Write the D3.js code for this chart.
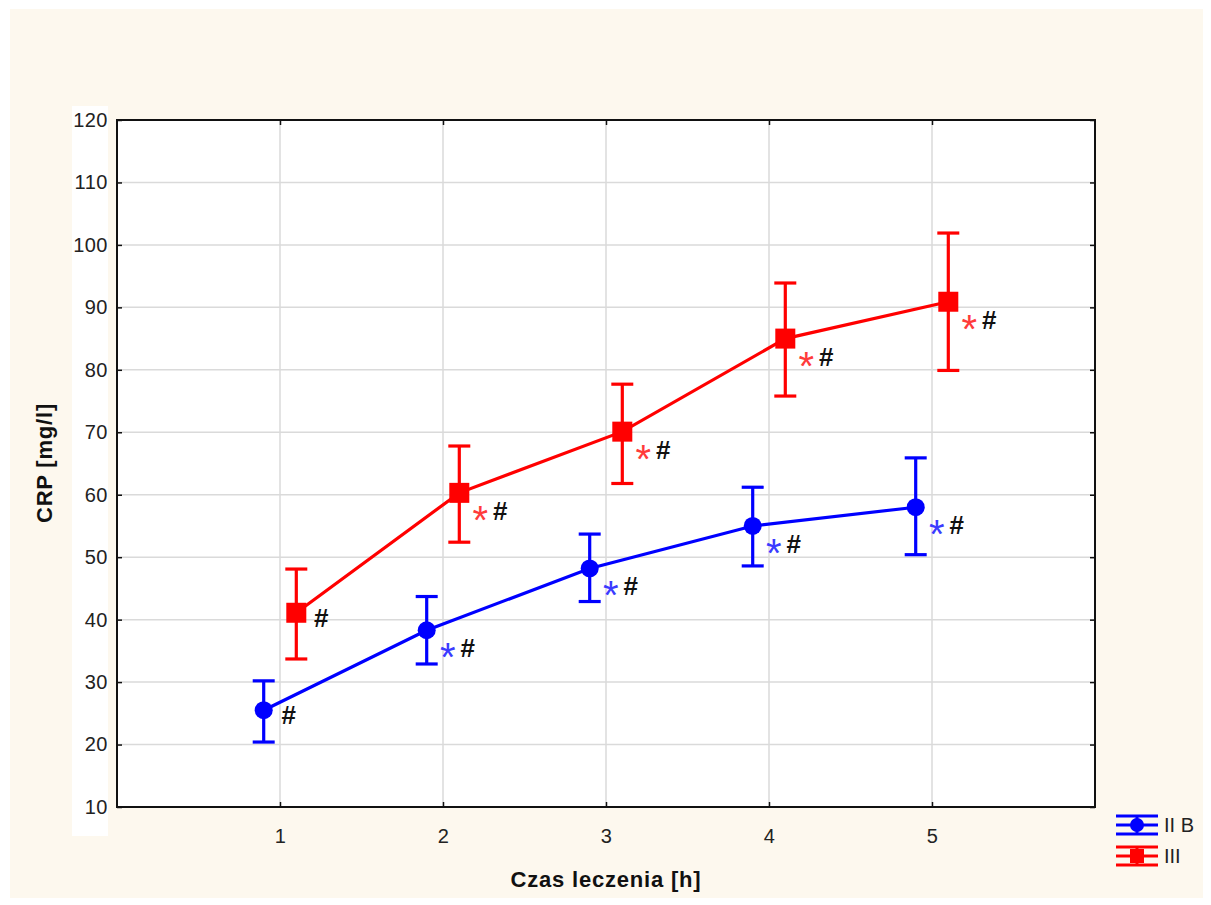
<!DOCTYPE html>
<html>
<head>
<meta charset="utf-8">
<script src="https://cdn.jsdelivr.net/npm/d3@7"></script>
<style>
  html, body { margin: 0; padding: 0; background: #ffffff; }
  svg { display: block; font-family: "Liberation Sans", Arial, sans-serif; }
</style>
</head>
<body>
<svg id="chart" width="1211" height="905"></svg>
<script>
// Treatment time (hours)
const hours = [1, 2, 3, 4, 5];
const yTicks = [10, 20, 30, 40, 50, 60, 70, 80, 90, 100, 110, 120];

// Group "II B": mean CRP with lower / upper error limits
const groupIIB = [25.5, 38.3, 48.2, 55.0, 58.0];
const groupIIBLow = [20.4, 32.9, 42.9, 48.6, 50.4];
const groupIIBHigh = [30.2, 43.7, 53.7, 61.2, 65.9];

// Group "III": mean CRP with lower / upper error limits
const groupIII = [41.1, 60.3, 70.1, 85.0, 90.9];
const groupIIILow = [33.7, 52.4, 61.8, 75.8, 79.9];
const groupIIIHigh = [48.1, 67.8, 77.7, 93.9, 101.9];

// Significance markers per time point
const starIIB = [false, true, true, true, true];
const starIII = [false, true, true, true, true];

const svg = d3.select("#chart");

// Frame and panel backgrounds
svg.append("rect").attr("x", 10).attr("y", 9).attr("width", 1193).attr("height", 889).attr("fill", "#fdf8ee");
svg.append("rect").attr("x", 72).attr("y", 106).attr("width", 36).attr("height", 730).attr("fill", "#ffffff");

const plot = { left: 117, right: 1095, top: 120, bottom: 807 };
svg.append("rect").attr("x", plot.left).attr("y", plot.top)
  .attr("width", plot.right - plot.left).attr("height", plot.bottom - plot.top).attr("fill", "#ffffff");

const x = d3.scaleLinear().domain([0, 6]).range([plot.left, plot.right]);
const y = d3.scaleLinear().domain([10, 120]).range([plot.bottom, plot.top]);

// Grid
const grid = svg.append("g");
grid.selectAll("line.h").data(yTicks.slice(1, -1)).join("line")
  .attr("x1", plot.left).attr("x2", plot.right)
  .attr("y1", d => y(d)).attr("y2", d => y(d))
  .attr("stroke", "#dadada").attr("stroke-width", 1.5);
grid.selectAll("line.v").data(hours).join("line")
  .attr("y1", plot.top).attr("y2", plot.bottom)
  .attr("x1", d => x(d)).attr("x2", d => x(d))
  .attr("stroke", "#dadada").attr("stroke-width", 1.5);

// Axes with inward ticks on all four sides
const axisStyle = g => {
  g.select(".domain").remove();
  g.selectAll(".tick line").attr("stroke", "#111").attr("stroke-width", 1.5);
  g.selectAll(".tick text").attr("fill", "#222").style("font-size", "20px").style("letter-spacing", "0.5px");
};
svg.append("g").attr("transform", `translate(${plot.left},0)`)
  .call(d3.axisLeft(y).tickValues(yTicks).tickSize(-5).tickPadding(9).tickFormat(d3.format("d")))
  .call(axisStyle);
svg.append("g").attr("transform", `translate(${plot.right},0)`)
  .call(d3.axisRight(y).tickValues(yTicks).tickSize(-5).tickFormat(""))
  .call(axisStyle);
svg.append("g").attr("transform", `translate(0,${plot.bottom})`)
  .call(d3.axisBottom(x).tickValues(hours).tickSize(-5).tickPadding(22).tickFormat(d3.format("d")))
  .call(axisStyle);
svg.append("g").attr("transform", `translate(0,${plot.top})`)
  .call(d3.axisTop(x).tickValues(hours).tickSize(-5).tickFormat(""))
  .call(axisStyle);

svg.append("rect").attr("x", plot.left).attr("y", plot.top)
  .attr("width", plot.right - plot.left).attr("height", plot.bottom - plot.top)
  .attr("fill", "none").attr("stroke", "#111").attr("stroke-width", 2);

// Axis titles
svg.append("text").attr("x", 606).attr("y", 887).attr("text-anchor", "middle")
  .style("font-size", "22px").style("font-weight", "bold").style("letter-spacing", "0.8px").attr("fill", "#111")
  .text("Czas leczenia [h]");
svg.append("text").attr("transform", "translate(52,463) rotate(-90)").attr("text-anchor", "middle")
  .style("font-size", "22px").style("font-weight", "bold").style("letter-spacing", "0.8px").attr("fill", "#111")
  .text("CRP [mg/l]");

// Series drawing
function drawSeries(means, lows, highs, stars, offset, color, starColor, marker) {
  const g = svg.append("g");
  const pts = hours.map((h, i) => ({ h, m: means[i], lo: lows[i], hi: highs[i], s: stars[i] }));
  const px = d => x(d.h + offset);

  g.append("path").datum(pts)
    .attr("d", d3.line().x(px).y(d => y(d.m)))
    .attr("fill", "none").attr("stroke", color).attr("stroke-width", 3.2);

  g.selectAll("line.err").data(pts).join("line")
    .attr("x1", px).attr("x2", px).attr("y1", d => y(d.lo)).attr("y2", d => y(d.hi))
    .attr("stroke", color).attr("stroke-width", 3.2);
  ["lo", "hi"].forEach(k => {
    g.selectAll("line.cap" + k).data(pts).join("line")
      .attr("x1", d => px(d) - 11).attr("x2", d => px(d) + 11)
      .attr("y1", d => y(d[k])).attr("y2", d => y(d[k]))
      .attr("stroke", color).attr("stroke-width", 3.2);
  });

  if (marker === "circle") {
    g.selectAll("circle").data(pts).join("circle")
      .attr("cx", px).attr("cy", d => y(d.m)).attr("r", 9).attr("fill", color);
  } else {
    g.selectAll("rect").data(pts).join("rect")
      .attr("x", d => px(d) - 10).attr("y", d => y(d.m) - 10)
      .attr("width", 20).attr("height", 20).attr("fill", color);
  }

  g.selectAll("text.star").data(pts.filter(d => d.s)).join("text")
    .attr("x", d => px(d) + 21).attr("y", d => y(d.m) + 41)
    .attr("text-anchor", "middle").style("font-size", "40px").attr("fill", starColor)
    .text("*");
  g.selectAll("text.hash").data(pts).join("text")
    .attr("x", d => px(d) + (d.s ? 41 : 25)).attr("y", d => y(d.m) + (d.s ? 27 : 14))
    .attr("text-anchor", "middle").style("font-size", "26px").style("font-weight", "bold")
    .attr("fill", "#111").text("#");
}

drawSeries(groupIIB, groupIIBLow, groupIIBHigh, starIIB, -0.1, "#0000ff", "#3b3bff", "circle");
drawSeries(groupIII, groupIIILow, groupIIIHigh, starIII, 0.1, "#ff0000", "#ff3b3b", "square");

// Legend
const legend = [
  { name: "II B", color: "#0000ff", marker: "circle", y: 825 },
  { name: "III", color: "#ff0000", marker: "square", y: 856 }
];
const lg = svg.append("g");
legend.forEach(l => {
  [-9, 0, 9].forEach(dy => {
    lg.append("line").attr("x1", 1116).attr("x2", 1158)
      .attr("y1", l.y + dy).attr("y2", l.y + dy)
      .attr("stroke", l.color).attr("stroke-width", 3);
  });
  lg.append("line").attr("x1", 1137).attr("x2", 1137).attr("y1", l.y - 9).attr("y2", l.y + 9)
    .attr("stroke", l.color).attr("stroke-width", 3);
  if (l.marker === "circle") {
    lg.append("circle").attr("cx", 1137).attr("cy", l.y).attr("r", 7).attr("fill", l.color);
  } else {
    lg.append("rect").attr("x", 1130).attr("y", l.y - 7).attr("width", 14).attr("height", 14).attr("fill", l.color);
  }
  lg.append("text").attr("x", 1164).attr("y", l.y + 7)
    .style("font-size", "20px").attr("fill", "#222").text(l.name);
});
</script>
</body>
</html>
